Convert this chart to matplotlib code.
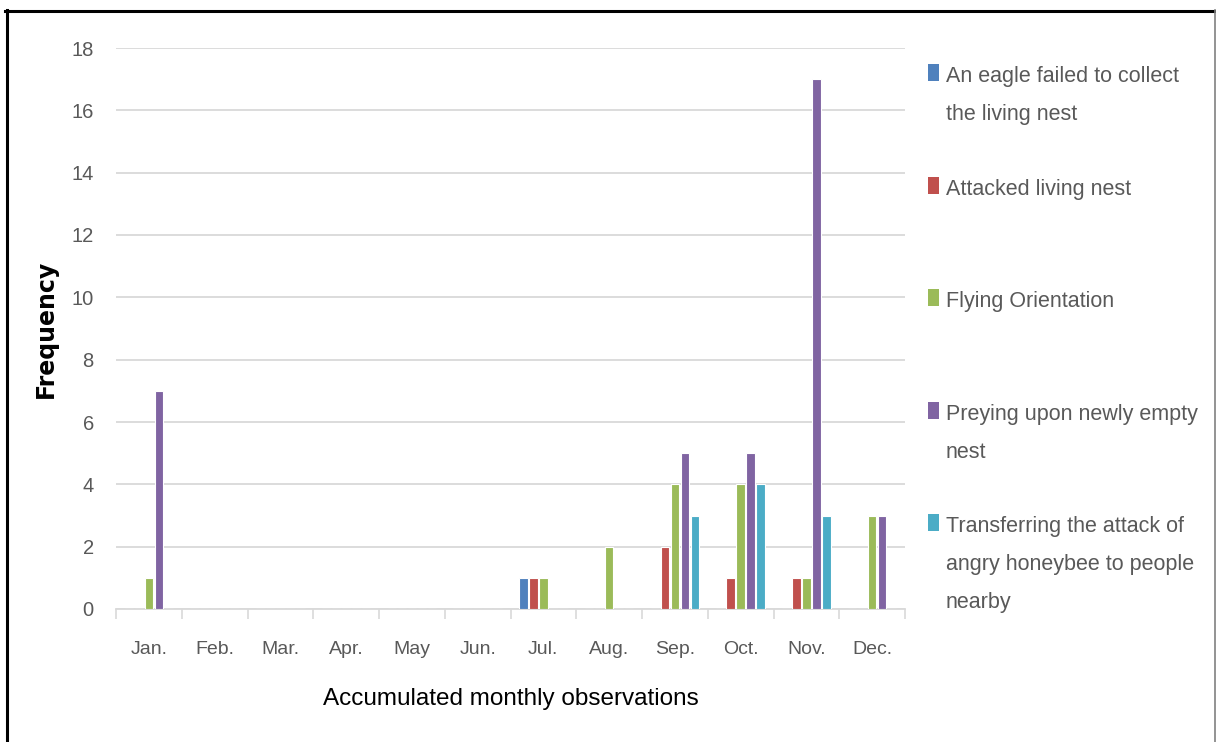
import matplotlib
matplotlib.use("Agg")
import matplotlib.pyplot as plt
from matplotlib.patches import Rectangle
from matplotlib.lines import Line2D
import numpy as np

months = ["Jan.", "Feb.", "Mar.", "Apr.", "May", "Jun.", "Jul.", "Aug.", "Sep.", "Oct.", "Nov.", "Dec."]
series_names = [
    "An eagle failed to collect\nthe living nest",
    "Attacked living nest",
    "Flying Orientation",
    "Preying upon newly empty\nnest",
    "Transferring the attack of\nangry honeybee to people\nnearby",
]
eagle_failed = [0, 0, 0, 0, 0, 0, 1, 0, 0, 0, 0, 0]
attacked_nest = [0, 0, 0, 0, 0, 0, 1, 0, 2, 1, 1, 0]
flying_orient = [1, 0, 0, 0, 0, 0, 1, 2, 4, 4, 1, 3]
preying_empty = [7, 0, 0, 0, 0, 0, 0, 0, 5, 5, 17, 3]
transferring = [0, 0, 0, 0, 0, 0, 0, 0, 3, 4, 3, 0]
series_values = [eagle_failed, attacked_nest, flying_orient, preying_empty, transferring]
colors = ["#4F81BD", "#C0504D", "#9BBB59", "#8064A2", "#4BACC6"]
yticks = [0, 2, 4, 6, 8, 10, 12, 14, 16, 18]

W, H = 1216, 742
fig = plt.figure(figsize=(W / 100, H / 100), dpi=100)
fig.patch.set_facecolor("white")

SANS = ["Liberation Sans", "DejaVu Sans"]
GRAY = "#595959"

ax = fig.add_axes([116 / W, 1 - 609 / H, (905 - 116) / W, (609 - 48) / H])
x = np.arange(len(months))
pitch = 0.152
for i, (vals, c) in enumerate(zip(series_values, colors)):
    offs = (i - 2) * pitch
    ax.bar(x + offs, vals, width=0.128, color=c, edgecolor="white", linewidth=0.8, zorder=3)

ax.set_xlim(-0.5, len(months) - 0.5)
ax.set_ylim(0, 18)
ax.set_yticks(yticks)
ax.set_yticklabels([str(t) for t in yticks], fontfamily=SANS, fontsize=14.5, color=GRAY)
ax.tick_params(axis="y", length=0, pad=16)
ax.set_xticks(x)
ax.set_xticklabels(months, fontfamily=SANS, fontsize=14, color=GRAY)
ax.tick_params(axis="x", which="major", length=0, pad=23)
ax.set_xticks(np.arange(-0.5, len(months), 1.0), minor=True)
ax.tick_params(axis="x", which="minor", length=7, width=1.2, color="#D9D9D9", direction="out")
ax.grid(axis="y", color="#D9D9D9", linewidth=1.3, zorder=0)
ax.set_axisbelow(True)
for s in ["top", "right", "left"]:
    ax.spines[s].set_visible(False)
ax.spines["bottom"].set_color("#D9D9D9")
ax.spines["bottom"].set_linewidth(1.3)

ax.set_xlabel("Accumulated monthly observations", fontfamily=SANS, fontsize=17.5, color="black", labelpad=22)
ax.set_ylabel("Frequency", fontfamily="DejaVu Sans", fontweight="bold", fontsize=17, color="black", labelpad=10)

# legend (manual, Excel-like with evenly spaced entries)
for i, (name, c) in enumerate(zip(series_names, colors)):
    base = 82 + 112.6 * i
    fig.add_artist(Rectangle((928 / W, 1 - (base - 1) / H), 11 / W, 17 / H,
                             transform=fig.transFigure, facecolor=c, edgecolor="none"))
    for j, line in enumerate(name.split("\n")):
        fig.text(946 / W, 1 - (base + 38 * j) / H, line, fontfamily=SANS, fontsize=15.5,
                 color=GRAY, va="baseline", ha="left")

# outer frame
fig.add_artist(Line2D([5 / W, 1216 / W], [1 - 11 / H, 1 - 11 / H], transform=fig.transFigure, color="black", linewidth=2.2))
fig.add_artist(Line2D([7 / W, 7 / W], [0, 1 - 10 / H], transform=fig.transFigure, color="black", linewidth=2.2))
fig.add_artist(Line2D([1214.5 / W, 1214.5 / W], [0, 1 - 10 / H], transform=fig.transFigure, color="#808080", linewidth=1.2))

fig.savefig("out.png", dpi=100)
